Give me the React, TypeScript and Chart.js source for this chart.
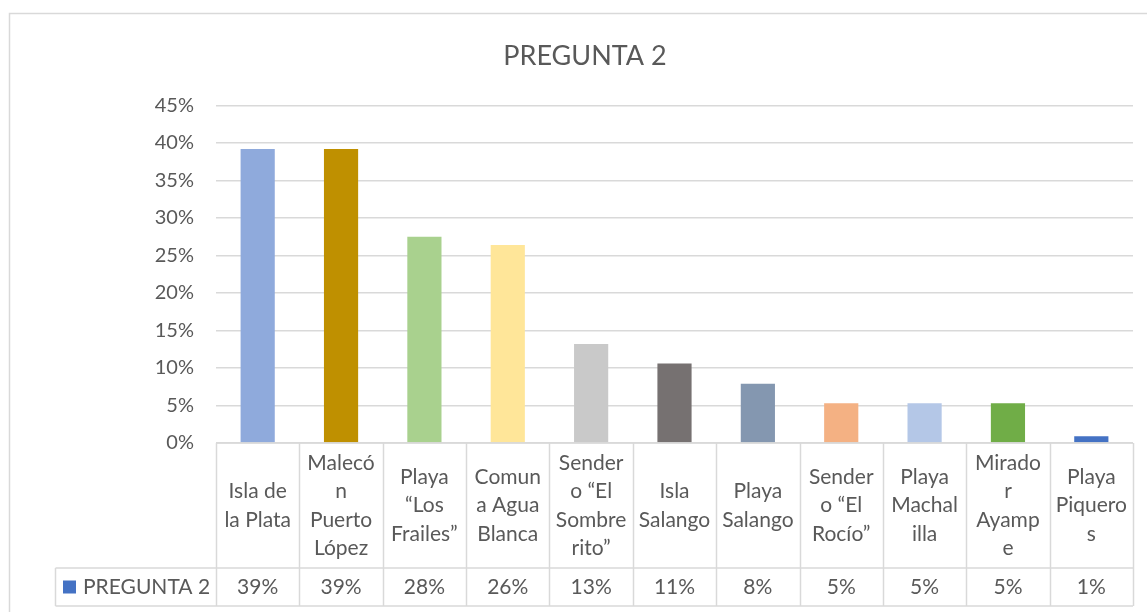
import React, { useEffect, useRef } from "react";
import { Chart, registerables } from "chart.js";

Chart.register(...registerables);

const TITLE = "PREGUNTA 2";
const SERIES_NAME = "PREGUNTA 2";
const categories: string[][] = [
  ["Isla de", "la Plata"],
  ["Malecó", "n", "Puerto", "López"],
  ["Playa", "“Los", "Frailes”"],
  ["Comun", "a Agua", "Blanca"],
  ["Sender", "o “El", "Sombre", "rito”"],
  ["Isla", "Salango"],
  ["Playa", "Salango"],
  ["Sender", "o “El", "Rocío”"],
  ["Playa", "Machal", "illa"],
  ["Mirado", "r", "Ayamp", "e"],
  ["Playa", "Piquero", "s"],
];
const values = [0.392, 0.392, 0.275, 0.264, 0.132, 0.106, 0.079, 0.053, 0.053, 0.053, 0.009];
const barColors = [
  "#8FAADC", "#BF9000", "#A9D18E", "#FFE699", "#C9C9C9", "#767171",
  "#8497B0", "#F4B183", "#B4C7E7", "#70AD47", "#4472C4",
];
const legendColor = "#4472C4";
const yTickMax = 0.45;
const yTickStep = 0.05;

const FONT = "Lato, 'Open Sans', sans-serif";
const TEXT = "#595959";
const LINE = "#D9D9D9";

const tablePlugin = {
  id: "dataTable",
  beforeDraw(chart: any) {
    const ctx = chart.ctx;
    ctx.save();
    ctx.strokeStyle = LINE;
    ctx.lineWidth = 1.5;
    ctx.strokeRect(9.5, 13.5, chart.width + 20, chart.height + 20);
    ctx.restore();
  },
  afterDraw(chart: any) {
    const ctx = chart.ctx;
    const area = chart.chartArea;
    const x = chart.scales.x;
    const n = categories.length;
    const step = (area.right - area.left) / n;
    const top = area.bottom;
    const mid = top + 125;
    const bottom = mid + 38;
    const legendLeft = 55.5;
    ctx.save();
    ctx.strokeStyle = LINE;
    ctx.lineWidth = 1.5;
    ctx.beginPath();
    ctx.moveTo(area.left, top);
    ctx.lineTo(area.right, top);
    ctx.moveTo(legendLeft, mid);
    ctx.lineTo(area.right, mid);
    ctx.moveTo(legendLeft, bottom);
    ctx.lineTo(area.right, bottom);
    for (let i = 0; i <= n; i++) {
      const bx = Math.round(area.left + i * step) + 0.5;
      ctx.moveTo(bx, top);
      ctx.lineTo(bx, bottom);
    }
    ctx.moveTo(legendLeft, mid);
    ctx.lineTo(legendLeft, bottom);
    ctx.stroke();

    ctx.fillStyle = TEXT;
    ctx.font = `21px ${FONT}`;
    ctx.textAlign = "center";
    ctx.textBaseline = "middle";
    const lh = 28.5;
    const headCenter = (top + mid) / 2;
    categories.forEach((lines, i) => {
      const cx = x.getPixelForValue(i);
      const start = headCenter - ((lines.length - 1) * lh) / 2;
      lines.forEach((ln, j) => ctx.fillText(ln, cx, start + j * lh));
    });
    const rowCenter = (mid + bottom) / 2;
    values.forEach((v, i) => {
      const cx = x.getPixelForValue(i);
      ctx.fillText(Math.round(v * 100) + "%", cx, rowCenter);
    });
    ctx.fillStyle = legendColor;
    ctx.fillRect(63, rowCenter - 6.5, 13, 13);
    ctx.fillStyle = TEXT;
    ctx.textAlign = "left";
    ctx.fillText(SERIES_NAME, 83, rowCenter);
    ctx.restore();
  },
};

export default function App() {
  const ref = useRef<HTMLCanvasElement | null>(null);
  useEffect(() => {
    if (!ref.current) return;
    const chart = new Chart(ref.current, {
      type: "bar",
      data: {
        labels: categories.map((c) => c.join(" ")),
        datasets: [
          {
            label: SERIES_NAME,
            data: values,
            backgroundColor: barColors,
            barPercentage: 0.41,
            categoryPercentage: 1,
          },
        ],
      },
      options: {
        animation: false,
        responsive: false,
        maintainAspectRatio: false,
        layout: { padding: { left: 37, right: 14, top: 40, bottom: 169 } },
        plugins: {
          legend: { display: false },
          tooltip: { enabled: false },
          title: {
            display: true,
            text: TITLE,
            color: TEXT,
            font: { family: FONT, size: 27, weight: "normal" },
            padding: { top: 0, bottom: 33 },
          },
        },
        scales: {
          x: { display: false },
          y: {
            min: 0,
            max: yTickMax,
            border: { display: false },
            grid: { color: LINE, lineWidth: 1.5, drawTicks: false },
            afterFit(scale: any) {
              scale.width = 179;
            },
            ticks: {
              stepSize: yTickStep,
              padding: 22,
              color: TEXT,
              font: { family: FONT, size: 20 },
              callback: (v: any) => Math.round(Number(v) * 100) + "%",
            },
          },
        },
      },
      plugins: [tablePlugin],
    });
    return () => chart.destroy();
  }, []);
  return (
    <div style={{ position: "absolute", left: 0, top: 0, width: 1147, height: 612, background: "#fff" }}>
      <canvas ref={ref} width={1147} height={612} style={{ display: "block" }} />
    </div>
  );
}
